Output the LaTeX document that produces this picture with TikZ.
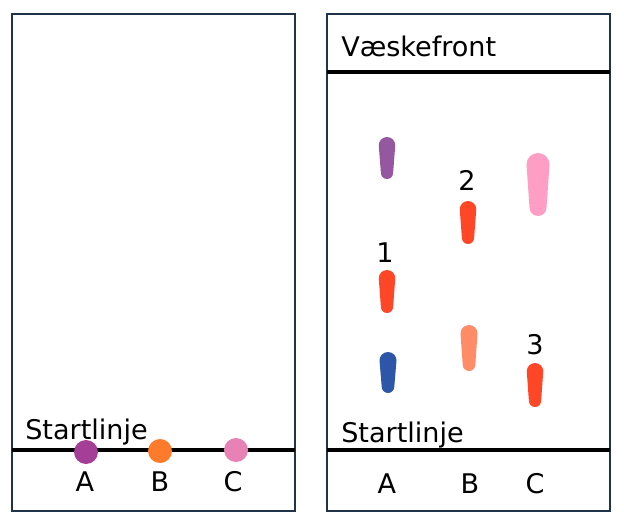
\documentclass[tikz,border=0pt]{standalone}
\usepackage{fontspec}
\setmainfont{DejaVu Sans}
\definecolor{frame}{HTML}{1F3449}
\definecolor{dotA}{HTML}{A43E96}
\definecolor{dotB}{HTML}{FF7A2A}
\definecolor{dotC}{HTML}{E882B6}
\definecolor{spPurple}{HTML}{9457A0}
\definecolor{spRed}{HTML}{FF4626}
\definecolor{spBlue}{HTML}{2E56A8}
\definecolor{spSalmon}{HTML}{FF8C66}
\definecolor{spPink}{HTML}{FF9EC4}
\newcommand\tlcspot[5]{% x, ytop, ybot, width, colour (image coords, y down)
  \fill[#5] ({#1-#4/2},{522-#2-#4/2}) arc[start angle=180,end angle=0,radius={#4/2}]
    -- ({#1+#4*0.37},{522-#3+#4*0.37}) arc[start angle=0,end angle=-180,radius={#4*0.37}] -- cycle;}
\begin{document}
\begin{tikzpicture}[x=0.75pt,y=0.75pt,
  panel/.style={draw=frame,line width=1.1pt},
  rule/.style={draw=black,line width=2.3pt},
  lbl/.style={font=\fontsize{20.3pt}{23pt}\selectfont,inner sep=0pt,anchor=base},
  lblw/.style={lbl,anchor=base west},
  dot/.style={circle,minimum size=18pt,inner sep=0pt,fill=#1}]
\useasboundingbox[fill=white] (0,0) rectangle (624,522);
% panels
\draw[panel] (12,11) rectangle (295,508);
\draw[panel] (327,11) rectangle (610,508);
% lines
\draw[rule] (12,72) -- (295,72);
\draw[rule] (327,72) -- (610,72);
\draw[rule] (327,450) -- (610,450);
% left panel
\node[lblw] (sl1) at (25,83) {Startlinje};
\node[dot=dotA] (dA) at (86,70) {};
\node[dot=dotB] (dB) at (160,71) {};
\node[dot=dotC] (dC) at (236,72) {};
\node[lbl] (lA) at (85,31) {A};
\node[lbl] (lB) at (160,31) {B};
\node[lbl] (lC) at (233,31) {C};
% right panel
\node[lblw] (vf) at (341,465) {Væskefront};
\node[lblw] (sl2) at (341,80) {Startlinje};
\node[lbl] (rA) at (387,29) {A};
\node[lbl] (rB) at (470,29) {B};
\node[lbl] (rC) at (535,29) {C};
\node[lbl] (n1) at (385,260) {1};
\node[lbl] (n2) at (467,331) {2};
\node[lbl] (n3) at (535,168) {3};
% spots
\tlcspot{387}{137}{179}{16.5}{spPurple}
\tlcspot{387}{270}{313}{16.5}{spRed}
\tlcspot{388}{352}{393}{17}{spBlue}
\tlcspot{468}{201}{244}{16.5}{spRed}
\tlcspot{469}{325}{371}{17}{spSalmon}
\tlcspot{538}{153}{216}{23}{spPink}
\tlcspot{535}{363}{407}{16.5}{spRed}
\end{tikzpicture}
\end{document}
